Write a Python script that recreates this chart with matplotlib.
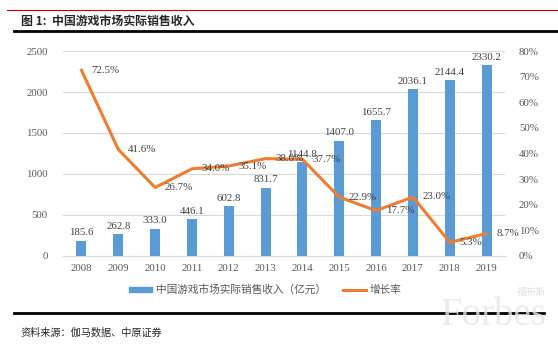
import numpy as np
import matplotlib.pyplot as plt
from matplotlib.lines import Line2D
from matplotlib.patches import Patch

plt.rcParams['font.family'] = ['Liberation Serif', 'Noto Sans CJK SC', 'DejaVu Sans']

# data
years = ['2008', '2009', '2010', '2011', '2012', '2013',
         '2014', '2015', '2016', '2017', '2018', '2019']
revenue = [185.6, 262.8, 333.0, 446.1, 602.8, 831.7,
           1144.8, 1407.0, 1655.7, 2036.1, 2144.4, 2330.2]
growth = [72.5, 41.6, 26.7, 34.0, 35.1, 38.0,
          37.7, 22.9, 17.7, 23.0, 5.3, 8.7]

bar_col = '#5B9BD5'
line_col = '#ED7D31'
txt_col = '#595959'
cjk = ['Noto Sans CJK SC', 'DejaVu Sans']

fig = plt.figure(figsize=(5.58, 3.5), dpi=100)
ax = fig.add_axes([0.113, 0.269, 0.792, 0.585])
ax2 = ax.twinx()

x = np.arange(len(years))
bars = ax.bar(x, revenue, width=0.27, color=bar_col, zorder=2)
for xi, v in zip(x, revenue):
    ax.annotate('%.1f' % v, (xi, v), xytext=(0, 2.5), textcoords='offset points',
                ha='center', va='bottom', fontsize=7.8, color='#404040')

ax.set_ylim(0, 2500)
ax.set_yticks(range(0, 2501, 500))
ax.set_xlim(-0.5, len(years) - 0.5)
ax.set_xticks(x)
ax.set_xticklabels(years)
ax.grid(axis='y', color='#D9D9D9', linewidth=0.8, zorder=0)
ax.set_axisbelow(True)

ax2.plot(x, growth, color=line_col, linewidth=2.2, zorder=3)
for xi, g in zip(x, growth):
    ax2.annotate('%.1f%%' % g, (xi, g), xytext=(7, 0), textcoords='offset points',
                 ha='left', va='center', fontsize=7.8, color='#404040')
ax2.set_ylim(0, 80)
ax2.set_yticks(range(0, 81, 10))
ax2.set_yticklabels(['%d%%' % t for t in range(0, 81, 10)])

for a in (ax, ax2):
    for s in a.spines.values():
        s.set_visible(False)
    a.tick_params(length=0, labelsize=7.8, colors=txt_col)
ax.spines['bottom'].set_visible(True)
ax.spines['bottom'].set_color('#D9D9D9')
ax.tick_params(axis='y', pad=11)
ax.tick_params(axis='x', pad=6)
ax2.tick_params(axis='y', pad=10)

handles = [Patch(color=bar_col), Line2D([], [], color=line_col, linewidth=2.2)]
labels = ['中国游戏市场实际销售收入（亿元）', '增长率']
fig.legend(handles, labels, loc='center', bbox_to_anchor=(0.475, 0.172), ncol=2,
           frameon=False, prop={'family': cjk, 'size': 7.7}, labelcolor=txt_col,
           handlelength=2.2, handleheight=0.35, columnspacing=1.6, handletextpad=0.3)

# header and footer decorations
fig.add_artist(Line2D([0.013, 1.0], [0.971, 0.971], color='#C00000', linewidth=0.8))
fig.add_artist(Line2D([0.025, 1.0], [0.911, 0.911], color='black', linewidth=2))
fig.text(0.038, 0.94, '图 1:  中国游戏市场实际销售收入', family=cjk, fontsize=8.6,
         fontweight='bold', va='center', ha='left', color='#262626')
fig.add_artist(Line2D([0.025, 0.975], [0.106, 0.106], color='black', linewidth=2))
fig.text(0.036, 0.049, '资料来源：伽马数据、中原证券', family=cjk, fontsize=7.3,
         va='center', ha='left', color='#262626')

# faint watermark
fig.text(0.79, 0.071, 'Forbes', fontsize=28, color='#E6E6E6', alpha=0.8,
         family='Liberation Serif', ha='left', va='baseline')
fig.text(0.978, 0.165, '福布斯', fontsize=7, color='#E0E0E0', family=cjk,
         ha='right', va='center')

fig.savefig('out.png', dpi=100)
